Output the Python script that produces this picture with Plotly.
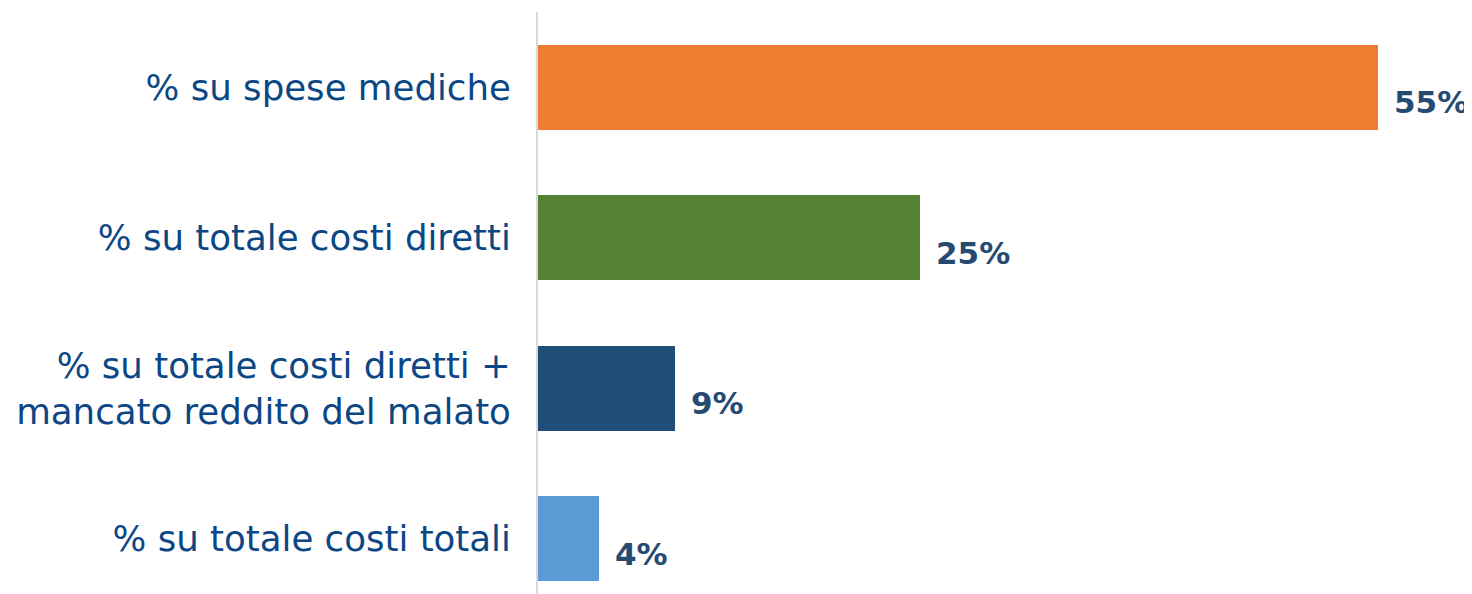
import plotly.graph_objects as go

categories = [
    "% su spese mediche",
    "% su totale costi diretti",
    "% su totale costi diretti +<br>mancato reddito del malato",
    "% su totale costi totali",
]
values = [55, 25, 9, 4]
value_labels = ["55%", "25%", "9%", "4%"]
colors = ["#ED7D31", "#548235", "#1F4E79", "#5B9BD5"]

fig = go.Figure()
fig.add_trace(go.Bar(
    x=values,
    y=categories,
    orientation="h",
    marker=dict(color=colors, line=dict(width=0)),
    width=0.565,
    hoverinfo="skip",
))

for v, c, t in zip(values, categories, value_labels):
    fig.add_annotation(
        x=v, y=c, text=t, showarrow=False,
        xanchor="left", yanchor="middle",
        xshift=14, yshift=-15,
        font=dict(family="DejaVu Sans", size=31, color="#264B73", weight="bold"),
    )

# page body has an 8px default margin; compensate so the figure fills the window
fig.update_layout(
    width=1464, height=586,
    margin=dict(l=530, r=16, t=4, b=0),
    paper_bgcolor="white",
    plot_bgcolor="white",
    showlegend=False,
    bargap=0,
)
fig.update_xaxes(
    range=[0, 60.1], visible=False, showgrid=False, zeroline=False,
)
fig.update_yaxes(
    type="category",
    range=[3.366, -0.5],
    automargin=False,
    showgrid=False, zeroline=False,
    showline=True, linecolor="#D9D9D9", linewidth=2,
    ticks="", ticklabelstandoff=18,
    tickfont=dict(family="DejaVu Sans", size=35.6, color="#0B4685"),
)

fig.write_html("out.html")
